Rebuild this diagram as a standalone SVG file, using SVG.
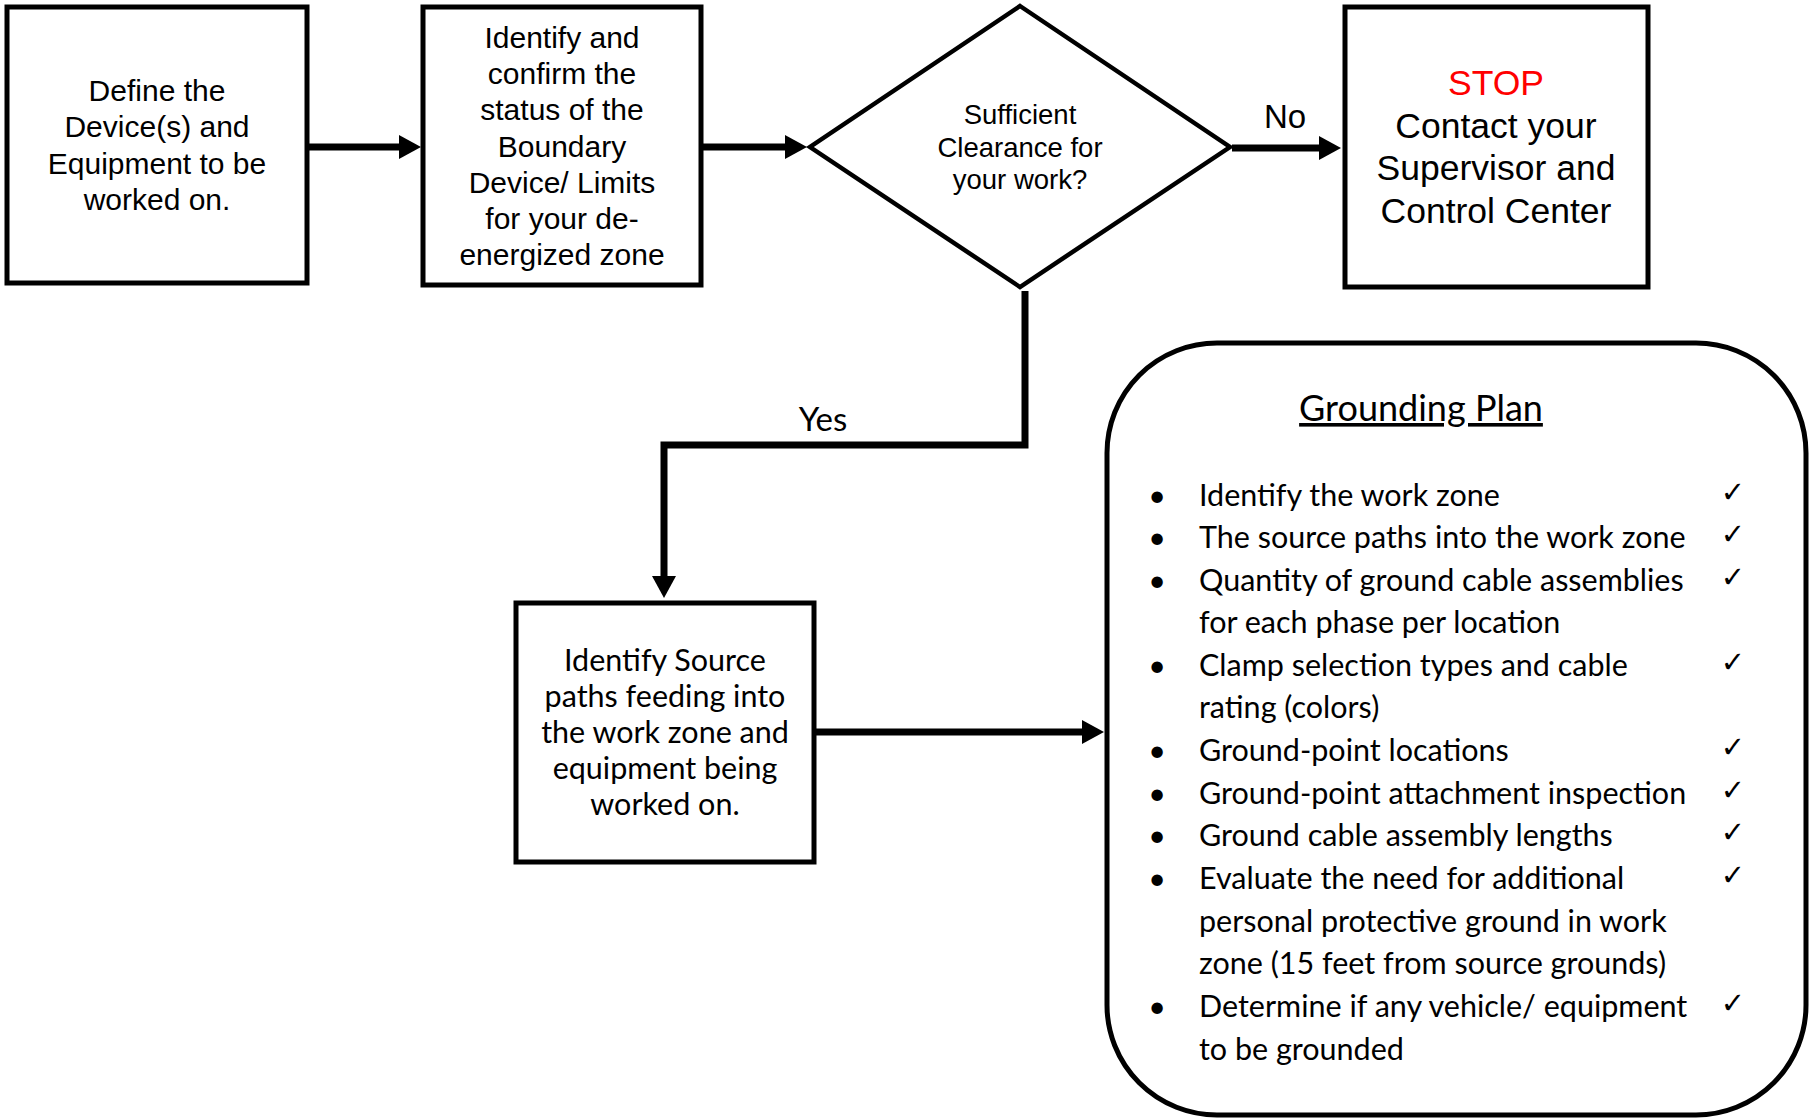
<svg xmlns="http://www.w3.org/2000/svg" width="1811" height="1120" viewBox="0 0 1811 1120">
<style>
.box{fill:#fff;stroke:#000;stroke-width:5}
.t{font-family:"Liberation Sans",Arial,sans-serif;fill:#000;text-anchor:middle}
.c{font-family:Lato,"Liberation Sans",sans-serif;fill:#000}
.conn{fill:none;stroke:#000;stroke-width:7;stroke-linejoin:miter}
.chk{font-family:"DejaVu Sans",sans-serif;font-size:29px;text-anchor:middle}
</style>
<defs>
<marker id="ah" markerUnits="userSpaceOnUse" markerWidth="22" markerHeight="24" refX="12" refY="12" orient="auto">
<path d="M0,0 L22,12 L0,24 z" fill="#000"/>
</marker>
</defs>
<rect width="1811" height="1120" fill="#fff"/>
<g id="connectors">
<line class="conn" x1="308" y1="147" x2="411" y2="147" marker-end="url(#ah)"/>
<line class="conn" x1="702" y1="147" x2="797" y2="147" marker-end="url(#ah)"/>
<line class="conn" x1="1232" y1="148" x2="1331" y2="148" marker-end="url(#ah)"/>
<path class="conn" d="M1025,291 V445 H664 V588" marker-end="url(#ah)"/>
<line class="conn" x1="814" y1="732" x2="1094" y2="732" marker-end="url(#ah)"/>
<text class="t" x="1285" y="128" font-size="33">No</text>
<text class="c" x="823" y="431" font-size="33" text-anchor="middle">Yes</text>
</g>
<g id="define">
<rect class="box" x="7" y="7" width="300" height="276"/>
<text class="t" font-size="30"><tspan x="157" y="101">Define the</tspan><tspan x="157" y="137">Device(s) and</tspan><tspan x="157" y="174">Equipment to be</tspan><tspan x="157" y="210">worked on.</tspan></text>
</g>
<g id="identify">
<rect class="box" x="423" y="7" width="278" height="278"/>
<text class="t" font-size="30"><tspan x="562" y="48">Identify and</tspan><tspan x="562" y="84">confirm the</tspan><tspan x="562" y="120">status of the</tspan><tspan x="562" y="157">Boundary</tspan><tspan x="562" y="193">Device/ Limits</tspan><tspan x="562" y="229">for your de-</tspan><tspan x="562" y="265">energized zone</tspan></text>
</g>
<g id="decision">
<polygon points="1020,6 1230,147 1020,287 810,147" fill="#fff" stroke="#000" stroke-width="4.5"/>
<text class="t" font-size="27.5"><tspan x="1020" y="124">Sufficient</tspan><tspan x="1020" y="157">Clearance for</tspan><tspan x="1020" y="189">your work?</tspan></text>
</g>
<g id="stop">
<rect class="box" x="1345" y="7" width="303" height="280"/>
<text class="t" font-size="35.5"><tspan x="1496" y="95" fill="#ff0000">STOP</tspan><tspan x="1496" y="138">Contact your</tspan><tspan x="1496" y="180">Supervisor and</tspan><tspan x="1496" y="223">Control Center</tspan></text>
</g>
<g id="source">
<rect class="box" x="516" y="603" width="298" height="259"/>
<text class="c" font-size="30.5" text-anchor="middle"><tspan x="665" y="671">Identify Source</tspan><tspan x="665" y="707">paths feeding into</tspan><tspan x="665" y="743">the work zone and</tspan><tspan x="665" y="779">equipment being</tspan><tspan x="665" y="815">worked on.</tspan></text>
</g>
<g id="grounding-plan">
<rect class="box" x="1107" y="343" width="699" height="772" rx="110" ry="110"/>
<text class="c" x="1421" y="421" font-size="36" text-anchor="middle" text-decoration="underline">Grounding Plan</text>
<g class="c" font-size="30.5">
<text x="1157" y="506" text-anchor="middle">•</text><text x="1199" y="506">Identify the work zone</text>
<text x="1157" y="548" text-anchor="middle">•</text><text x="1199" y="548">The source paths into the work zone</text>
<text x="1157" y="591" text-anchor="middle">•</text><text x="1199" y="591">Quantity of ground cable assemblies</text>
<text x="1199" y="633">for each phase per location</text>
<text x="1157" y="676" text-anchor="middle">•</text><text x="1199" y="676">Clamp selection types and cable</text>
<text x="1199" y="718">rating (colors)</text>
<text x="1157" y="761" text-anchor="middle">•</text><text x="1199" y="761">Ground-point locations</text>
<text x="1157" y="804" text-anchor="middle">•</text><text x="1199" y="804">Ground-point attachment inspection</text>
<text x="1157" y="846" text-anchor="middle">•</text><text x="1199" y="846">Ground cable assembly lengths</text>
<text x="1157" y="889" text-anchor="middle">•</text><text x="1199" y="889">Evaluate the need for additional</text>
<text x="1199" y="932">personal protective ground in work</text>
<text x="1199" y="974">zone (15 feet from source grounds)</text>
<text x="1157" y="1017" text-anchor="middle">•</text><text x="1199" y="1017">Determine if any vehicle/ equipment</text>
<text x="1199" y="1060">to be grounded</text>
</g>
<g class="chk">
<text x="1733" y="502">✓</text>
<text x="1733" y="544">✓</text>
<text x="1733" y="587">✓</text>
<text x="1733" y="672">✓</text>
<text x="1733" y="757">✓</text>
<text x="1733" y="800">✓</text>
<text x="1733" y="842">✓</text>
<text x="1733" y="885">✓</text>
<text x="1733" y="1013">✓</text>
</g>
</g>
</svg>
